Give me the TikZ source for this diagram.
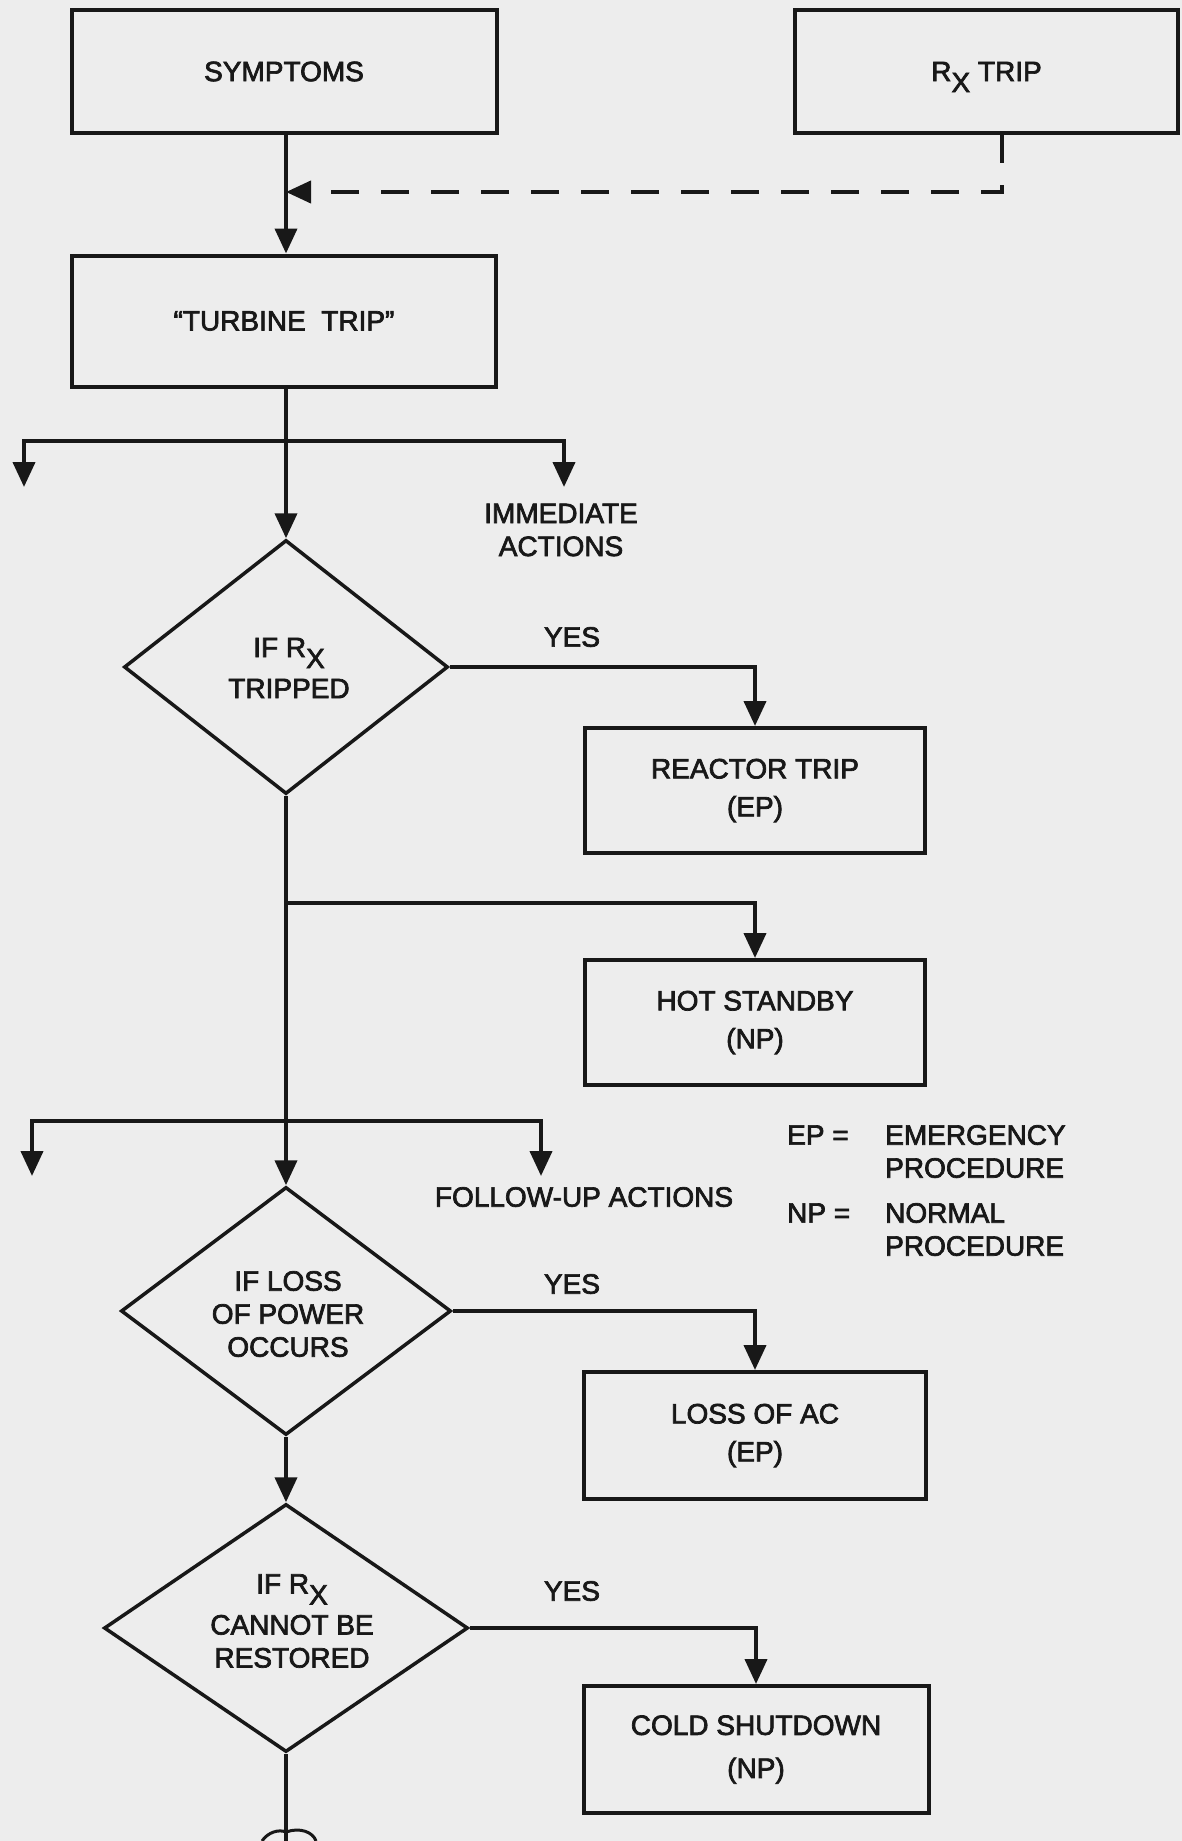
\documentclass[tikz,border=0pt]{standalone}
\usepackage{fontspec}
\setmainfont{Liberation Sans}[FakeBold=2.5]
\usetikzlibrary{arrows.meta,shapes.geometric}
\definecolor{ink}{RGB}{24,24,24}
\definecolor{paper}{RGB}{237,237,237}
% R with a lowered X, used for "reactor"
\newcommand{\Rsub}{R\raisebox{-11pt}[0pt][0pt]{X}}
\begin{document}
\begin{tikzpicture}[x=1pt,y=-1pt,
  txt/.style={font=\fontsize{28}{33}\selectfont, text=ink, align=center, inner sep=0pt},
  box/.style={txt, font=\fontsize{28}{38}\selectfont, draw=ink, line width=4pt, rectangle},
  decision/.style={draw=ink, line width=3.5pt, diamond, inner sep=0pt},
  conn/.style={draw=ink, line width=4pt},
  flow/.style={conn, -{Triangle[length=25pt,width=22pt]}},
]
% page
\fill[paper] (0,0) rectangle (1182,1841);
\useasboundingbox (0,0) rectangle (1182,1841);

% boxes
\node[box, minimum width=425pt, minimum height=123pt] (sym) at (284,71.5) {SYMPTOMS};
\node[box, minimum width=383pt, minimum height=123pt] (rx) at (986.5,71.5) {\Rsub\ TRIP};
\node[box, minimum width=424pt, minimum height=131pt] (tt) at (284,321) {``TURBINE\ \ TRIP''};
\node[box, minimum width=340pt, minimum height=125pt] (rt) at (755,790.5) {REACTOR TRIP\\(EP)};
\node[box, minimum width=340pt, minimum height=125pt] (hs) at (755,1022.5) {HOT STANDBY\\(NP)};
\node[box, minimum width=342pt, minimum height=127pt] (la) at (755,1435.5) {LOSS OF AC\\(EP)};
\node[box, minimum width=345pt, minimum height=127pt] (cs) at (756,1749.5) {COLD SHUTDOWN\\[5pt](NP)};

% decisions
\node[decision, minimum width=324pt, minimum height=254pt] (d1) at (286,667) {};
\node[txt] (d1t) at (289,668) {IF \Rsub\\[8pt]TRIPPED};
\node[decision, minimum width=330pt, minimum height=248pt] (d2) at (286,1311) {};
\node[txt] (d2t) at (288,1314) {IF LOSS\\OF POWER\\OCCURS};
\node[decision, minimum width=364pt, minimum height=248pt] (d3) at (286,1628) {};
\node[txt] (d3t) at (292,1621) {IF \Rsub\\[8pt]CANNOT BE\\RESTORED};

% labels
\node[txt] (imm) at (561,530) {IMMEDIATE\\ACTIONS};
\node[txt] (fup) at (584,1197) {FOLLOW-UP ACTIONS};
\node[txt] (y1) at (572,637) {YES};
\node[txt] (y2) at (572,1284) {YES};
\node[txt] (y3) at (572,1591) {YES};

% legend
\node[txt, anchor=west] (ep) at (787,1135) {EP =};
\node[txt, anchor=west, align=left] (epd) at (885,1151.5) {EMERGENCY\\PROCEDURE};
\node[txt, anchor=west] (np) at (787,1213) {NP =};
\node[txt, anchor=west, align=left] (npd) at (885,1229.5) {NORMAL\\PROCEDURE};

% junction points on the main line
\coordinate (dj) at (286,192);
\coordinate (b1) at (286,441);
\coordinate (a1l) at (24,487);
\coordinate (a1r) at (564,487);
\coordinate (hb) at (286,903);
\coordinate (b2) at (286,1121);
\coordinate (a2l) at (32,1176);
\coordinate (a2r) at (541,1176);
\coordinate (tail) at (286,1841);

% connectors
\draw[flow] (sym.south -| dj) -- (tt.north -| dj);
\draw[flow, dash pattern=on 28pt off 22pt] ([xshift=15.5pt]rx.south) |- (dj);
\draw[conn] (tt.south -| b1) -- (b1);
\draw[flow] (b1) -- (d1.north);
\draw[flow] (b1) -| (a1l);
\draw[flow] (b1) -| (a1r);
\draw[flow] (d1.east) -| (rt.north);
\draw[conn] (d1.south) -- (b2);
\draw[flow] (hb) -| (hs.north);
\draw[flow] (b2) -- (d2.north);
\draw[flow] (b2) -| (a2l);
\draw[flow] (b2) -| (a2r);
\draw[flow] (d2.east) -| (la.north);
\draw[flow] (d2.south) -- (d3.north);
\draw[flow] (d3.east) -| (cs.north);
\draw[conn] (d3.south) -- (tail);
% break mark at the bottom of the line
\draw[ink, line width=3pt] (262,1841) .. controls (268,1832) and (279,1829) .. (286,1832)
  .. controls (300,1827) and (313,1832) .. (316,1841);
\end{tikzpicture}
\end{document}
